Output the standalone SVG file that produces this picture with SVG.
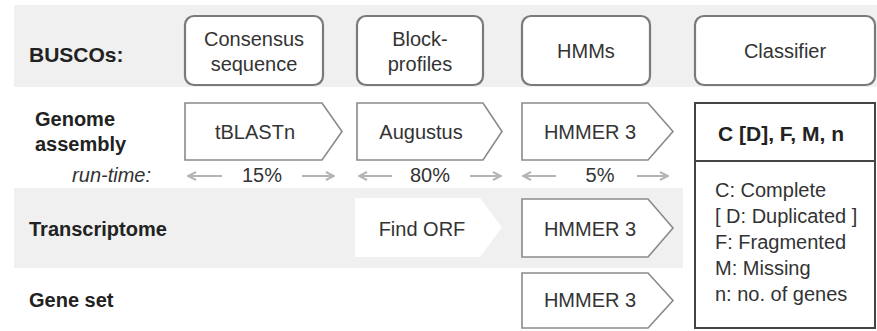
<svg xmlns="http://www.w3.org/2000/svg" width="877" height="331" viewBox="0 0 877 331">
<defs>
<style>
text{font-family:"Liberation Sans",Arial,sans-serif;fill:#333;font-size:20px}
.b{font-weight:bold;fill:#222}
.c{text-anchor:middle}
.box{fill:#fff;stroke:#7a7a7a;stroke-width:2.2}
.pent{fill:#fff;stroke:#8a8a8a;stroke-width:1.6}
.rt{stroke:#b4b4b4;stroke-width:2;fill:none}
.band{fill:#f0f0f0}
</style>
<marker id="ah" viewBox="0 0 10 10" refX="9" refY="5" markerWidth="10" markerHeight="10" markerUnits="userSpaceOnUse" orient="auto-start-reverse">
<path d="M1,1 L9,5 L1,9" fill="none" stroke="#b4b4b4" stroke-width="2"/>
</marker>
</defs>
<rect class="band" x="14" y="5" width="863" height="82"/>
<rect class="band" x="14" y="188" width="669" height="80"/>

<g id="busco-label"><text class="b" x="29" y="62" style="font-size:21px">BUSCOs:</text></g>
<g id="consensus"><rect class="box" x="185" y="16" width="138" height="69" rx="9"/><text class="c" x="254" y="46">Consensus</text><text class="c" x="254" y="71">sequence</text></g>
<g id="block-profiles"><rect class="box" x="357" y="16" width="126" height="69" rx="9"/><text class="c" x="420" y="46">Block-</text><text class="c" x="420" y="71">profiles</text></g>
<g id="hmms"><rect class="box" x="522" y="16" width="128" height="69" rx="9"/><text class="c" x="586" y="58">HMMs</text></g>
<g id="classifier"><rect class="box" x="695" y="16" width="180" height="69" rx="9"/><text class="c" x="785" y="58">Classifier</text></g>

<g id="genome-label"><text class="b" x="35" y="126">Genome</text><text class="b" x="35" y="151">assembly</text><text x="151" y="182" style="text-anchor:end;font-style:italic">run-time:</text></g>
<g id="tblastn"><polygon class="pent" points="185,103 322,103 342,131.5 322,160 185,160"/><text class="c" x="255" y="139">tBLASTn</text></g>
<g id="augustus"><polygon class="pent" points="357,103 483,103 502,131.5 483,160 357,160"/><text class="c" x="421" y="139">Augustus</text></g>
<g id="hmmer-genome"><polygon class="pent" points="522,103 648,103 673,131.5 648,160 522,160"/><text class="c" x="590" y="139">HMMER 3</text></g>

<g id="runtime">
<text class="c" x="262" y="182">15%</text>
<text class="c" x="430" y="182">80%</text>
<text class="c" x="600" y="182">5%</text>
</g>

<g id="transcriptome-label"><text class="b" x="29" y="236">Transcriptome</text></g>
<g id="find-orf"><polygon fill="#fff" points="355,198 480,198 502,227.5 480,257 355,257"/><text class="c" x="422" y="236">Find ORF</text></g>
<g id="hmmer-transcriptome"><polygon class="pent" points="522,199 648,199 673,228 648,257 522,257"/><text class="c" x="590" y="236">HMMER 3</text></g>

<g id="geneset-label"><text class="b" x="29" y="307">Gene set</text></g>
<g id="hmmer-geneset"><polygon class="pent" points="522,273 648,273 673,300.5 648,328 522,328"/><text class="c" x="590" y="307">HMMER 3</text></g>

<g id="result">
<rect x="695" y="103" width="180" height="225" fill="#fff" stroke="#444" stroke-width="2"/>
<line x1="695" y1="161" x2="875" y2="161" stroke="#444" stroke-width="2"/>
<text class="b c" x="781" y="141" style="font-size:21px">C [D], F, M, n</text>
<text x="715" y="197">C: Complete</text>
<text x="715" y="223">[ D: Duplicated ]</text>
<text x="715" y="249">F: Fragmented</text>
<text x="715" y="275">M: Missing</text>
<text x="715" y="301">n: no. of genes</text>
</g>

<g id="connectors">
<path class="rt" d="M222,176 H188" marker-end="url(#ah)"/>
<path class="rt" d="M302,176 H334" marker-end="url(#ah)"/>
<path class="rt" d="M392,176 H359" marker-end="url(#ah)"/>
<path class="rt" d="M470,176 H501" marker-end="url(#ah)"/>
<path class="rt" d="M556,176 H523" marker-end="url(#ah)"/>
<path class="rt" d="M637,176 H668" marker-end="url(#ah)"/>
</g>
</svg>
